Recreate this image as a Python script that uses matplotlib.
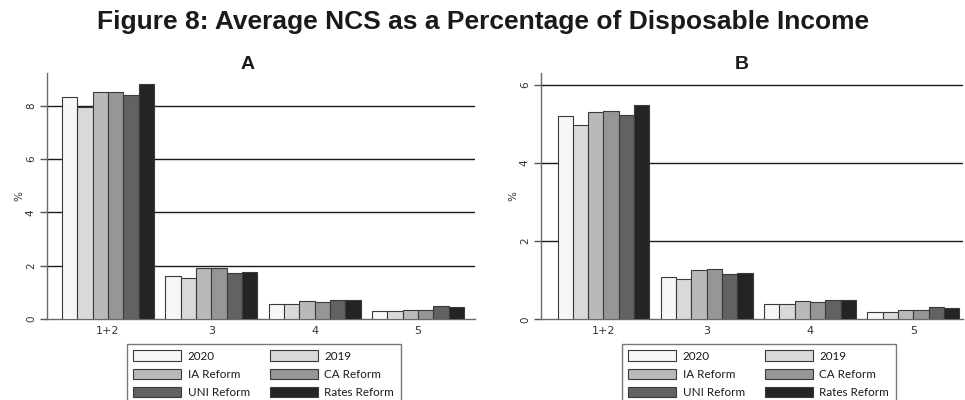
import matplotlib
matplotlib.use("Agg")
import matplotlib.pyplot as plt
from matplotlib.patches import Patch
import numpy as np

# Household groups on the x axis
groups = ["1+2", "3", "4", "5"]

# Scenario names and fill shades
series = ["2020", "2019", "IA Reform", "CA Reform", "UNI Reform", "Rates Reform"]
shades = ["#f7f7f7", "#d9d9d9", "#b9b9b9", "#969696", "#626262", "#242424"]

# Panel A: average NCS as % of disposable income
panel_a = {
    "2020":         [8.33, 1.63, 0.58, 0.31],
    "2019":         [7.95, 1.55, 0.58, 0.29],
    "IA Reform":    [8.50, 1.90, 0.68, 0.35],
    "CA Reform":    [8.53, 1.90, 0.63, 0.35],
    "UNI Reform":   [8.40, 1.74, 0.73, 0.49],
    "Rates Reform": [8.80, 1.78, 0.70, 0.45],
}

# Panel B
panel_b = {
    "2020":         [5.19, 1.09, 0.40, 0.19],
    "2019":         [4.96, 1.04, 0.40, 0.19],
    "IA Reform":    [5.30, 1.27, 0.46, 0.23],
    "CA Reform":    [5.32, 1.28, 0.43, 0.23],
    "UNI Reform":   [5.23, 1.15, 0.50, 0.32],
    "Rates Reform": [5.49, 1.19, 0.49, 0.30],
}

W, H = 965, 400
fig = plt.figure(figsize=(W / 100, H / 100), dpi=100)
fig.patch.set_facecolor("white")


def px(x0, y_top, x1, y_bot):
    return [x0 / W, 1 - y_bot / H, (x1 - x0) / W, (y_bot - y_top) / H]


def draw_panel(ax, data, yticks, ylim, xlim):
    n = len(series)
    bw = 0.89 / n
    x = np.arange(len(groups))
    for i, name in enumerate(series):
        ax.bar(x - 0.445 + bw * (i + 0.5), data[name], width=bw,
               color=shades[i], edgecolor="#3a3a3a", linewidth=0.8, zorder=3)
    for t in yticks[1:]:
        ax.axhline(t, color="#1a1a1a", linewidth=1.0, zorder=1)
    ax.set_ylim(*ylim)
    ax.set_xlim(*xlim)
    ax.set_yticks(yticks)
    ax.set_yticklabels([str(t) for t in yticks], rotation=90, va="center",
                       fontsize=7.5, color="#333333")
    ax.set_xticks(x)
    ax.set_xticklabels(groups, fontsize=8, color="#333333")
    ax.tick_params(axis="x", length=0, pad=5)
    ax.tick_params(axis="y", length=5, width=1, color="#555555", pad=3)
    for s in ["top", "right"]:
        ax.spines[s].set_visible(False)
    ax.spines["left"].set_color("#6a6a6a")
    ax.spines["bottom"].set_color("#6a6a6a")
    ax.spines["left"].set_linewidth(1.0)
    ax.spines["bottom"].set_linewidth(1.0)
    ax.set_facecolor("white")


axA = fig.add_axes(px(47, 73, 475, 319))
draw_panel(axA, panel_a, [0, 2, 4, 6, 8], (0, 9.23), (-0.59, 3.55))

axB = fig.add_axes(px(541, 72.7, 963, 319.3))
draw_panel(axB, panel_b, [0, 2, 4, 6], (0, 6.31), (-0.605, 3.48))

fig.text(483 / W, 1 - 22 / H,
         "Figure 8: Average NCS as a Percentage of Disposable Income",
         ha="center", va="center", fontsize=19, fontweight="bold",
         family="Liberation Sans", color="#1a1a1a")
fig.text(248 / W, 1 - 64.5 / H, "A", ha="center", va="center",
         fontsize=14, fontweight="bold", family="Liberation Sans", color="#1a1a1a")
fig.text(742 / W, 1 - 64.5 / H, "B", ha="center", va="center",
         fontsize=14, fontweight="bold", family="Liberation Sans", color="#1a1a1a")
fig.text(19 / W, 1 - 196 / H, "%", rotation=90, ha="center", va="center",
         fontsize=7.5, color="#333333")
fig.text(513 / W, 1 - 196 / H, "%", rotation=90, ha="center", va="center",
         fontsize=7.5, color="#333333")

# Legend entries, column-wise so rows read 2020/2019, IA/CA, UNI/Rates
order = [0, 2, 4, 1, 3, 5]
handles = [Patch(facecolor=shades[i], edgecolor="#3a3a3a", linewidth=0.8,
                 label=series[i]) for i in order]

for left in (127, 622):
    leg = fig.legend(handles=handles, loc="upper left",
                     bbox_to_anchor=(left / W, 1 - 344 / H),
                     bbox_transform=fig.transFigure, ncol=2,
                     prop={"family": "Lato", "size": 8.4},
                     handlelength=4.1, handleheight=1.0, handletextpad=0.55,
                     columnspacing=1.75, labelspacing=0.6, borderpad=0.55,
                     borderaxespad=0, fancybox=False, frameon=True)
    leg.get_frame().set_edgecolor("#555555")
    leg.get_frame().set_linewidth(1.0)
    for t in leg.get_texts():
        t.set_color("#1a1a1a")

fig.savefig("out.png", dpi=100, facecolor="white")
